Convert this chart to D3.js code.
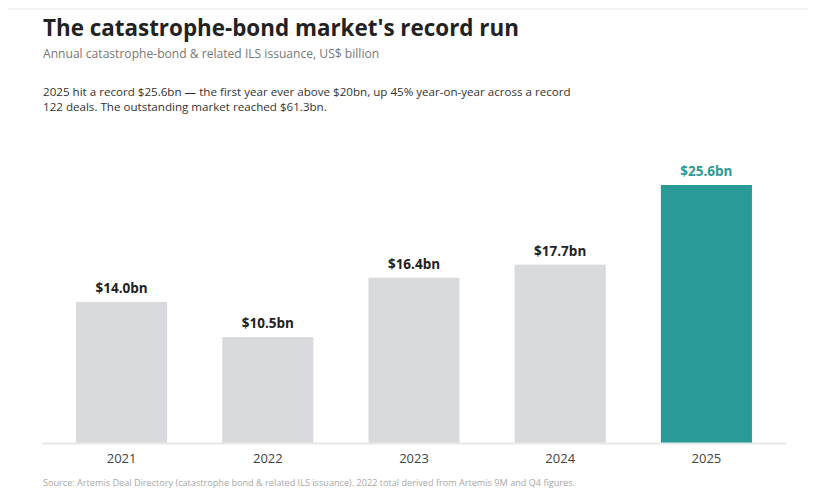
<!DOCTYPE html>
<html><head><meta charset="utf-8">
<script src="https://cdn.jsdelivr.net/npm/d3@7"></script>
<style>body{margin:0;background:#fff;font-family:"Open Sans",sans-serif;}</style>
</head><body><svg id="c" width="819" height="501"></svg>
<script>
const years = ["2021","2022","2023","2024","2025"];
const issuance = [14.0, 10.5, 16.4, 17.7, 25.6];
const labels = ["$14.0bn","$10.5bn","$16.4bn","$17.7bn","$25.6bn"];
const highlight = "2025";

const svg = d3.select("#c");
svg.append("line").attr("x1",8).attr("x2",808).attr("y1",9).attr("y2",9).attr("stroke","#ececec").attr("stroke-width",1.5);

svg.append("text").attr("x",43).attr("y",36).attr("font-size",22.4).attr("font-weight",700).attr("fill","#222")
  .text("The catastrophe-bond market's record run");
svg.append("text").attr("x",43).attr("y",58).attr("font-size",12.1).attr("fill","#777")
  .text("Annual catastrophe-bond & related ILS issuance, US$ billion");
svg.append("text").attr("x",43).attr("y",96).attr("font-size",11.6).attr("fill","#333")
  .text("2025 hit a record $25.6bn \u2014 the first year ever above $20bn, up 45% year-on-year across a record");
svg.append("text").attr("x",43).attr("y",111).attr("font-size",11.6).attr("fill","#333")
  .text("122 deals. The outstanding market reached $61.3bn.");

const x = d3.scaleBand().domain(years).range([42,786]).paddingInner(0.377).paddingOuter(0.233);
const y = d3.scaleLinear().domain([0,25.6]).range([443,185]);

svg.selectAll("rect.bar").data(years).join("rect").attr("class","bar")
  .attr("x",d=>x(d)).attr("width",x.bandwidth())
  .attr("y",(d,i)=>y(issuance[i])).attr("height",(d,i)=>y(0)-y(issuance[i]))
  .attr("fill",d=>d===highlight?"#2a9a98":"#d9dadd");

svg.selectAll("text.val").data(years).join("text").attr("class","val")
  .attr("x",d=>x(d)+x.bandwidth()/2).attr("y",(d,i)=>y(issuance[i])-9)
  .attr("text-anchor","middle").attr("font-size",13.5).attr("font-weight",700)
  .attr("fill",d=>d===highlight?"#2a9a98":"#222").text((d,i)=>labels[i]);

const ax = svg.append("g").attr("transform","translate(0,443)").call(d3.axisBottom(x).tickSize(0).tickPadding(11));
ax.select(".domain").attr("stroke","#e8e8e8").attr("stroke-width",2);
ax.selectAll("text").attr("font-family","Open Sans").attr("font-size",13).attr("fill","#444");

svg.append("text").attr("x",43).attr("y",486).attr("font-size",9.15).attr("fill","#a8a8a8")
  .text("Source: Artemis Deal Directory (catastrophe bond & related ILS issuance). 2022 total derived from Artemis 9M and Q4 figures.");
</script></body></html>
